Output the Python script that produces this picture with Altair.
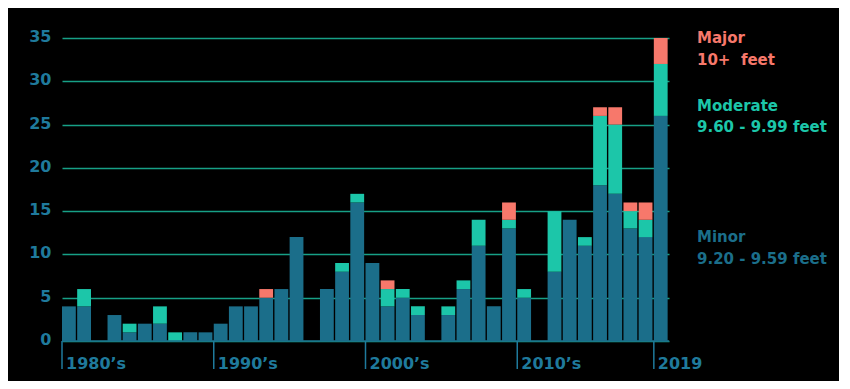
import altair as alt
import pandas as pd

years = list(range(1980, 2020))
minor = [4, 4, 0, 3, 1, 2, 2, 0, 1, 1,
         2, 4, 4, 5, 6, 12, 0, 6, 8, 16,
         9, 4, 5, 3, 0, 3, 6, 11, 4, 13,
         5, 0, 8, 14, 11, 18, 17, 13, 12, 26]
moderate = [0, 2, 0, 0, 1, 0, 2, 1, 0, 0,
            0, 0, 0, 0, 0, 0, 0, 0, 1, 1,
            0, 2, 1, 1, 0, 1, 1, 3, 0, 1,
            1, 0, 7, 0, 1, 8, 8, 2, 2, 6]
major = [0, 0, 0, 0, 0, 0, 0, 0, 0, 0,
         0, 0, 0, 1, 0, 0, 0, 0, 0, 0,
         0, 1, 0, 0, 0, 0, 0, 0, 0, 2,
         0, 0, 0, 0, 0, 1, 2, 1, 2, 3]

levels = ["Minor", "Moderate", "Major"]
level_colors = ["#1b6e8a", "#1cc6a9", "#f7786b"]

tick_years = [1980, 1990, 2000, 2010, 2019]
tick_labels = ["1980\u2019s", "1990\u2019s", "2000\u2019s", "2010\u2019s", "2019"]

legend_text = ["Major\n10+\u00a0\u00a0feet", "Moderate\n9.60 - 9.99 feet", "Minor\n9.20 - 9.59 feet"]

rows = []
for i, y in enumerate(years):
    base = 0
    for lvl, vals in zip(levels, [minor, moderate, major]):
        v = vals[i]
        if v > 0:
            rows.append({"year": y, "year_end": y + 0.91, "level": lvl,
                         "y0": base, "y1": base + v})
        base += v
df = pd.DataFrame(rows)

ticks_df = pd.DataFrame({"year": tick_years, "label": tick_labels})

FONT = "DejaVu Sans"
AXIS_BLUE = "#1f7a9c"
GRID = "#17a086"

xscale = alt.Scale(domain=[1980, 2020], nice=False, zero=False)
yscale = alt.Scale(domain=[0, 35], nice=False)

bars = alt.Chart(df).mark_bar(strokeWidth=0).encode(
    x=alt.X("year:Q", scale=xscale, axis=None),
    x2="year_end:Q",
    y=alt.Y("y0:Q", scale=yscale,
            axis=alt.Axis(values=[0, 5, 10, 15, 20, 25, 30, 35], title=None,
                          ticks=False, domain=False, labelFontSize=16,
                          labelFont=FONT, labelFontWeight="bold",
                          labelColor=AXIS_BLUE, labelPadding=11,
                          gridColor=GRID, gridWidth=1.5, grid=True,
                          labelOffset=-1.5)),
    y2="y1:Q",
    color=alt.Color("level:N", scale=alt.Scale(domain=levels, range=level_colors), legend=None),
)

zero_line = alt.Chart(pd.DataFrame({"a": [1980], "b": [2020], "v": [0]})).mark_rule(
    color=level_colors[0], strokeWidth=1.5
).encode(x=alt.X("a:Q", scale=xscale), x2="b:Q", y=alt.Y("v:Q", scale=yscale))

tick_rules = alt.Chart(ticks_df).mark_rule(color=AXIS_BLUE, strokeWidth=1.5).encode(
    x=alt.X("year:Q", scale=xscale), y=alt.value(303), y2=alt.value(331)
)

tick_text = alt.Chart(ticks_df).mark_text(
    align="left", baseline="alphabetic", dx=4, fontSize=16, font=FONT,
    fontWeight="bold", color=AXIS_BLUE
).encode(x=alt.X("year:Q", scale=xscale), y=alt.value(330.5), text="label:N")

legend_y = [5, 72.7, 204.4]
legend_layers = []
for txt, col, ly in zip(legend_text, level_colors[::-1], legend_y):
    legend_layers.append(
        alt.Chart(pd.DataFrame({"t": [txt]})).mark_text(
            align="left", baseline="alphabetic", fontSize=15, font=FONT,
            fontWeight="bold", color=col, lineBreak="\n", lineHeight=21.7
        ).encode(x=alt.value(635), y=alt.value(ly), text="t:N")
    )

chart = alt.layer(bars, zero_line, tick_rules, tick_text, *legend_layers).properties(
    width=607, height=303,
    autosize=alt.AutoSizeParams(type="none"),
    padding={"left": 54, "top": 30, "right": 170, "bottom": 40},
    background="#000000",
).configure_view(stroke=None)

chart.save("out.html", embed_options={"renderer": "svg", "actions": False})
